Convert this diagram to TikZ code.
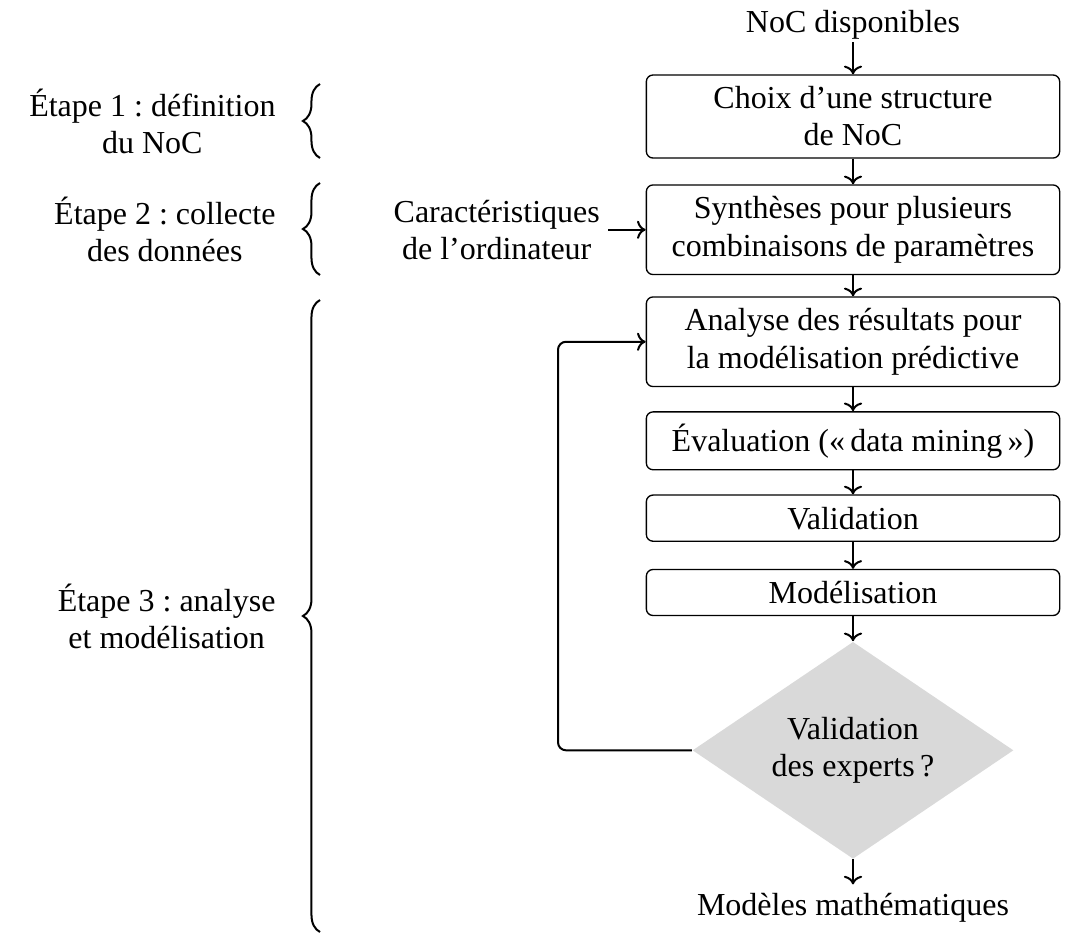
\documentclass[tikz,border=0pt]{standalone}
\usepackage{fontspec}
\setmainfont{Liberation Serif}
\usetikzlibrary{arrows.meta, positioning, shapes.geometric,
                decorations.pathreplacing}
\frenchspacing

\begin{document}
\begin{tikzpicture}[
    x=0.375pt, y=-0.375pt,
    >=To,
    font=\fontsize{12}{13.9}\selectfont,
    stepbox/.style={draw, line width=0.5pt, rounded corners=2.5pt,
                    minimum width=155pt, align=center,
                    inner xsep=2pt, inner ysep=4.4pt},
    flow/.style={->, line width=0.75pt},
    phase/.style={decorate, decoration={brace, amplitude=6.4pt},
                  line width=0.75pt}
  ]
  \useasboundingbox (0,0) rectangle (1076,936);

  \node[stepbox] (choix) at (853,116.5) {Choix d’une structure\\de NoC};
  \node[inner sep=1pt, above=12pt of choix] (noc) {NoC disponibles};
  \node[stepbox, below=9.6pt of choix] (synth)
    {Synthèses pour plusieurs\\combinaisons de paramètres};
  \node[stepbox, below=7.9pt of synth] (analyse)
    {Analyse des résultats pour\\la modélisation prédictive};
  \node[stepbox, below=9pt of analyse] (eval)
    {Évaluation («\,data mining\,»)};
  \node[stepbox, below=9pt of eval] (valid) {Validation};
  \node[stepbox, below=10.1pt of valid] (model) {Modélisation};
  \node[diamond, fill=gray!30, aspect=1.48, inner sep=0pt,
        minimum width=120.4pt, minimum height=81.4pt, align=center,
        below=9.4pt of model] (experts) {Validation\\des experts\,?};
  \node[inner sep=3pt, below=9.4pt of experts] (maths)
    {Modèles mathématiques};
  \node[inner sep=3pt, align=center, left=14pt of synth] (carac)
    {Caractéristiques\\de l’ordinateur};

  % main chain
  \draw[flow] (noc) -- (choix);
  \draw[flow] (choix) -- (synth);
  \draw[flow] (synth) -- (analyse);
  \draw[flow] (analyse) -- (eval);
  \draw[flow] (eval) -- (valid);
  \draw[flow] (valid) -- (model);
  \draw[flow] (model) -- (experts);
  \draw[flow] (experts) -- (maths);
  \draw[flow] (carac) -- (synth);

  % loop back when the experts refuse
  \coordinate (back) at (558,0);
  \draw[flow, rounded corners=3pt]
    (experts.west) -- (experts.west -| back) |- (analyse.west);

  % the three steps
  \coordinate (s1b) at (320,158);
  \coordinate (s1t) at (320,84);
  \coordinate (s2b) at (320,275);
  \coordinate (s2t) at (320,183);
  \coordinate (s3b) at (320,932);
  \coordinate (s3t) at (320,300);
  \draw[phase] (s1b) -- (s1t)
    node[midway, left=13pt, align=center] {Étape 1 : définition\\du NoC};
  \draw[phase] (s2b) -- (s2t)
    node[midway, left=13pt, align=center] {Étape 2 : collecte\\des données};
  \draw[phase] (s3b) -- (s3t)
    node[midway, left=13pt, align=center] {Étape 3 : analyse\\et modélisation};
\end{tikzpicture}
\end{document}
